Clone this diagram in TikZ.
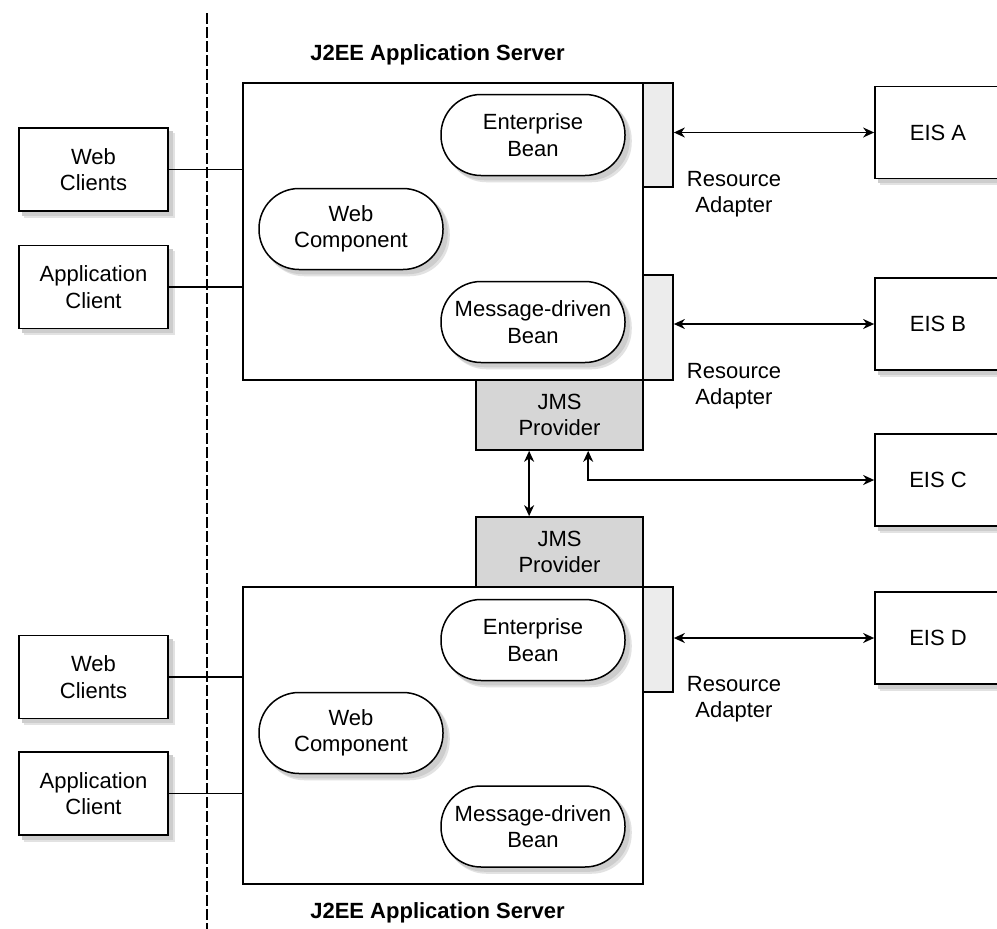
\documentclass[tikz,border=0pt]{standalone}
\usepackage{fontspec}
\setmainfont{Liberation Sans}
\usetikzlibrary{arrows.meta,calc}
\pgfdeclarelayer{bg}
\pgfdeclarelayer{shadowlayer}
\pgfsetlayers{bg,shadowlayer,main}
\definecolor{jmsgray}{HTML}{D6D6D6}
\definecolor{ragray}{HTML}{ECECEC}
\definecolor{shadowgray}{HTML}{CDCDCD}
\definecolor{shadowlight}{HTML}{E2E2E2}
\tikzset{
  txt/.style={font=\fontsize{22}{26.5}\selectfont, align=center},
  client/.style={txt, draw, line width=1.7pt, fill=white, minimum width=149pt, minimum height=83pt, inner sep=0pt},
  eis/.style={txt, draw, line width=1.7pt, fill=white, minimum width=126pt, minimum height=92pt, inner sep=0pt},
  bean/.style={txt, draw, line width=1.5pt, fill=white, rounded corners=40pt, minimum width=184pt, minimum height=81pt, inner sep=0pt},
  server/.style={draw, line width=1.8pt, minimum width=400pt, minimum height=297pt, inner sep=0pt},
  adapter/.style={draw, line width=1.7pt, fill=ragray, minimum width=30pt, inner sep=0pt},
  jms/.style={txt, draw, line width=1.7pt, fill=jmsgray, minimum width=167pt, minimum height=70pt, inner sep=0pt},
  lbl/.style={txt},
  ttl/.style={font=\fontsize{22}{26.5}\selectfont\bfseries},
  conn/.style={line width=1.6pt},
  dbl/.style={line width=1.6pt, {Stealth[length=11pt,width=10pt,inset=3.5pt]}-{Stealth[length=11pt,width=10pt,inset=3.5pt]}},
  shadowfill/.style={fill=shadowgray},
  shadowhalo/.style={fill=shadowlight},
}
\begin{document}
\begin{tikzpicture}[x=1pt,y=-1pt]
\useasboundingbox (0,0) rectangle (997,929);
\clip (0,0) rectangle (997,929);
\begin{pgfonlayer}{bg}
\fill[white] (0,0) rectangle (997,929);
\end{pgfonlayer}

% divider
\draw[line width=1.6pt, dash pattern=on 10.5pt off 3.5pt] (207,13) coordinate (dtop) -- (207,929) coordinate (dbot);

% titles
\node[ttl] (ttlA) at (437.5,55) {J2EE Application Server};
\node[ttl] (ttlB) at (437.5,913) {J2EE Application Server};

% ---------- upper server ----------
\node[server] (srvA) at (443,231.5) {};
\node[adapter, minimum height=104pt] (raA1) at (658,135) {};
\node[adapter, minimum height=105pt] (raA2) at (658,327.5) {};
\node[bean] (ejbA) at (533,135) {Enterprise\\Bean};
\node[bean] (webcA) at (351,229) {Web\\Component};
\node[bean] (mdbA) at (533,322) {Message-driven\\Bean};

\node[jms] (jmsA) at (559.5,415) {JMS\\Provider};
\node[jms] (jmsB) at (559.5,552) {JMS\\Provider};

% ---------- lower server ----------
\node[server] (srvB) at (443,735.5) {};
\node[adapter, minimum height=105pt] (raB) at (658,639.5) {};
\node[bean] (ejbB) at (533,640) {Enterprise\\Bean};
\node[bean] (webcB) at (351,733) {Web\\Component};
\node[bean] (mdbB) at (533,826.5) {Message-driven\\Bean};

% ---------- clients ----------
\node[client] (webA) at (93.5,169.5) {Web\\Clients};
\node[client] (appA) at (93.5,287) {Application\\Client};
\node[client] (webB) at (93.5,677) {Web\\Clients};
\node[client] (appB) at (93.5,793.5) {Application\\Client};

\draw[conn] (webA.east) -- (webA.east -| srvA.west);
\draw[conn] (appA.east) -- (appA.east -| srvA.west);
\draw[conn] (webB.east) -- (webB.east -| srvB.west);
\draw[conn] (appB.east) -- (appB.east -| srvB.west);

% ---------- EIS ----------
\node[eis] (eisA) at (938,132.5) {EIS A};
\node[eis] (eisB) at (938,324) {EIS B};
\node[eis] (eisC) at (938,480) {EIS C};
\node[eis] (eisD) at (938,638) {EIS D};

\node[lbl] (lblA1) at (734,194) {Resource\\Adapter};
\node[lbl] (lblA2) at (734,386) {Resource\\Adapter};
\node[lbl] (lblB) at (734,699) {Resource\\Adapter};

\draw[dbl] (eisA.west -| raA1.east) -- (eisA.west);
\draw[dbl] (eisB.west -| raA2.east) -- (eisB.west);
\draw[dbl] (eisD.west -| raB.east) -- (eisD.west);

\draw[dbl] ($(jmsA.south west)!0.32!(jmsA.south east)$) -- ($(jmsB.north west)!0.32!(jmsB.north east)$);
\draw[dbl] ($(jmsA.south west)!0.67!(jmsA.south east)$) |- (eisC.west);

% ---------- shadows ----------
\begin{pgfonlayer}{shadowlayer}
\foreach \n in {webA,appA,webB,appB,eisA,eisB,eisC,eisD}{
  \fill[shadowhalo] ([shift={(6,6)}]\n.north west) rectangle ([shift={(6,6)}]\n.south east);
  \fill[shadowfill] ([shift={(4,4)}]\n.north west) rectangle ([shift={(4,4)}]\n.south east);
}
\foreach \n in {ejbA,webcA,mdbA,ejbB,webcB,mdbB}{
  \fill[shadowhalo, rounded corners=40pt] ([shift={(6,6)}]\n.north west) rectangle ([shift={(6,6)}]\n.south east);
  \fill[shadowfill, rounded corners=40pt] ([shift={(4,4)}]\n.north west) rectangle ([shift={(4,4)}]\n.south east);
}
\end{pgfonlayer}
\end{tikzpicture}
\end{document}
